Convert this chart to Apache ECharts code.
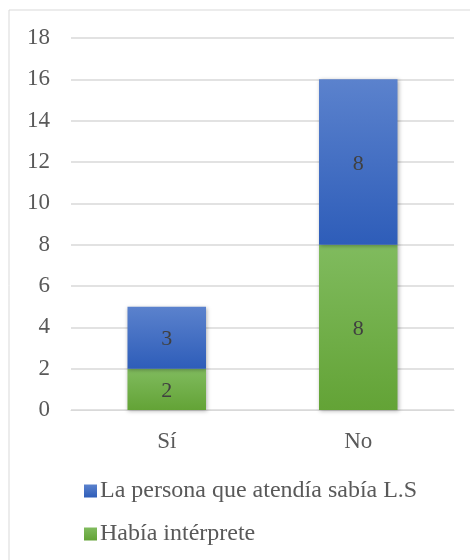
<!DOCTYPE html>
<html><head><meta charset="utf-8">
<script src="https://cdn.jsdelivr.net/npm/echarts@6/dist/echarts.min.js"></script>
<style>html,body{margin:0;padding:0;background:#fff}#c{width:470px;height:560px}</style>
</head><body><div id="c"></div>
<script>
const categories = ['Sí', 'No'];
const seriesNames = ['Había intérprete', 'La persona que atendía sabía L.S'];
const interpreteValues = [2, 8];
const sabiaValues = [3, 8];
const yTicks = {min: 0, max: 18, interval: 2};

const chart = echarts.init(document.getElementById('c'));
const font = 'Liberation Serif';
function grad(top, bottom) {
  return new echarts.graphic.LinearGradient(0, 0, 0, 1, [{offset: 0, color: top}, {offset: 1, color: bottom}]);
}
const labelStyle = {show: true, position: 'inside', color: '#404040', fontFamily: font, fontSize: 22, offset: [0, 2]};
chart.setOption({
  animation: false,
  graphic: [{type: 'rect', shape: {x: 9, y: 10, width: 480, height: 560}, style: {fill: 'none', stroke: '#d9d9d9', lineWidth: 1}, silent: true}],
  grid: {left: 71, right: 16, top: 38, bottom: 150},
  legend: {
    orient: 'vertical', left: 79, top: 474, itemGap: 19, itemWidth: 13, itemHeight: 13,
    data: [seriesNames[1], seriesNames[0]],
    textStyle: {fontFamily: font, fontSize: 24, color: '#595959', padding: [0, 0, 0, -2]},
    icon: 'rect'
  },
  xAxis: {
    type: 'category', data: categories,
    axisLine: {lineStyle: {color: '#d9d9d9'}}, axisTick: {show: false},
    axisLabel: {fontFamily: font, fontSize: 23, color: '#595959', margin: 20}
  },
  yAxis: {
    type: 'value', min: yTicks.min, max: yTicks.max, interval: yTicks.interval,
    axisLine: {show: false}, axisTick: {show: false},
    splitLine: {lineStyle: {color: '#d9d9d9', width: 1.5}},
    axisLabel: {fontFamily: font, fontSize: 23, color: '#595959', margin: 21}
  },
  series: [
    {name: seriesNames[0], type: 'bar', stack: 's', data: interpreteValues, barWidth: '41%',
      itemStyle: {color: grad('#80bb5e', '#63a336'), shadowColor: 'rgba(0,0,0,0.3)', shadowBlur: 4, shadowOffsetX: 1, shadowOffsetY: 1},
      label: labelStyle},
    {name: seriesNames[1], type: 'bar', stack: 's', data: sabiaValues, barWidth: '41%',
      itemStyle: {color: grad('#5b82cd', '#2e5db9'), shadowColor: 'rgba(0,0,0,0.3)', shadowBlur: 4, shadowOffsetX: 1, shadowOffsetY: 1},
      label: labelStyle}
  ]
});
</script></body></html>
